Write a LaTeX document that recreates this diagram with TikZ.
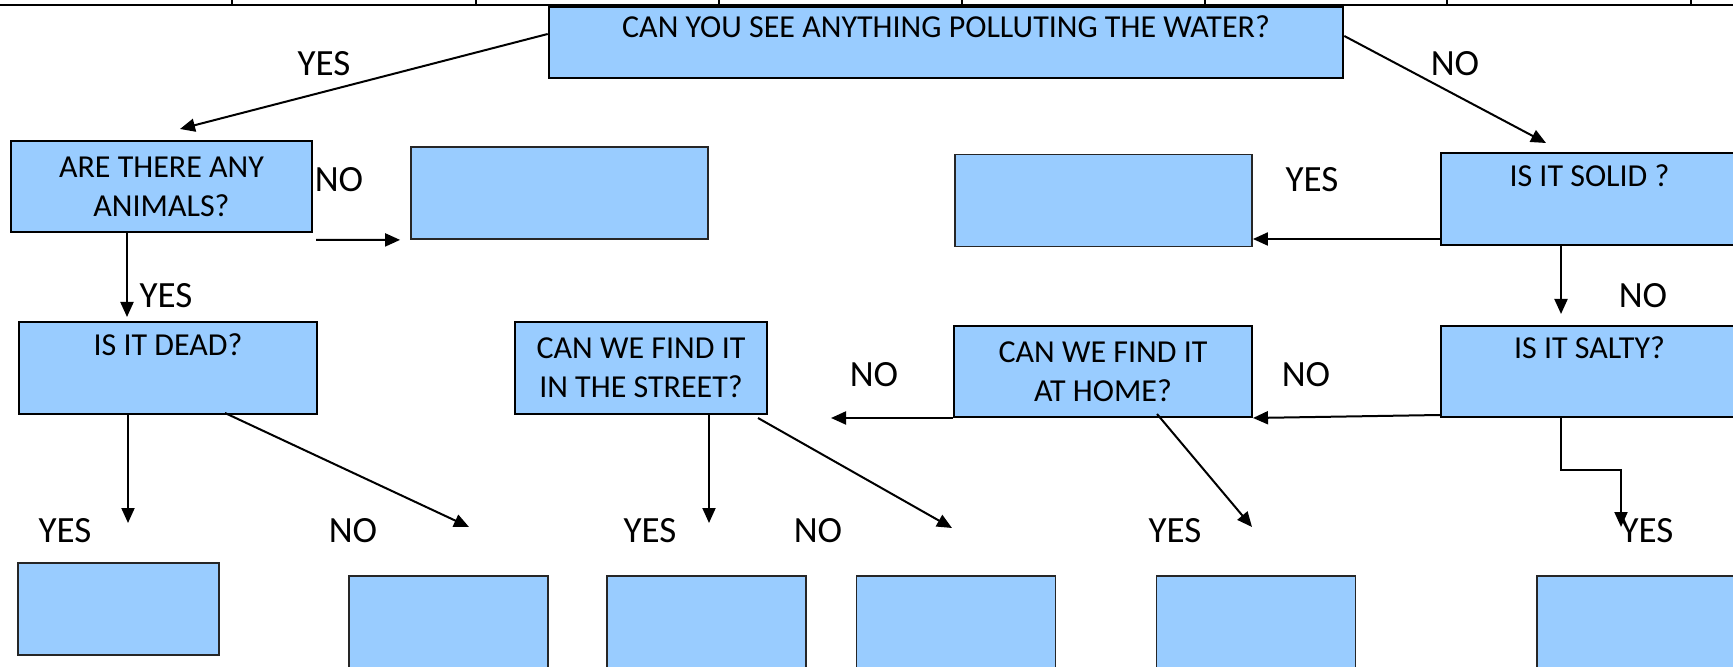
\documentclass[tikz,border=0pt]{standalone}
\usepackage{fontspec}
\setmainfont{Carlito}
\usetikzlibrary{arrows.meta,calc}
\definecolor{boxblue}{HTML}{99CCFF}
\tikzset{
qbox/.style={draw=black,line width=1pt,fill=boxblue,inner sep=0pt,align=center,font=\fontsize{16}{19.5}\selectfont},
ansbox/.style={draw=black!85,line width=0.9pt,fill=boxblue,inner sep=0pt},
answer/.style={inner sep=0pt,font=\fontsize{18.5}{22}\selectfont},
flowarrow/.style={-{Triangle[length=7.5pt,width=6.5pt]},line width=1pt},
ruleline/.style={line width=0.7pt}
}

\begin{document}
\begin{tikzpicture}[x=0.5pt,y=-0.5pt]
\useasboundingbox (0,0) rectangle (1733,667);
\clip (0,0) rectangle (1733,667);
% ruler along the top
\draw[ruleline] (0,5) -- (1733,5);
\foreach \x in {232,476,719,962,1205,1447,1691}
  \draw[ruleline] (\x,0) -- (\x,5);

% question boxes
\node[qbox,line width=1.3pt,minimum width=397pt,minimum height=35.5pt] (water) at (946,42.5) {CAN YOU SEE ANYTHING POLLUTING THE WATER?\\[-4pt]~};
\node[qbox,minimum width=150.5pt,minimum height=45.5pt] (animals) at (161.5,187) {ARE THERE ANY\\ANIMALS?};
\node[qbox,minimum width=148.5pt,minimum height=46pt] (solid) at (1589.5,199) {IS IT SOLID ?\\[4pt]~};
\node[qbox,minimum width=149pt,minimum height=46pt] (dead) at (168,368) {IS IT DEAD?\\[4pt]~};
\node[qbox,minimum width=126pt,minimum height=46pt] (street) at (641,368) {CAN WE FIND IT\\IN THE STREET?};
\node[qbox,minimum width=149pt,minimum height=45.5pt] (home) at (1103,371.5) {CAN WE FIND IT\\AT HOME?};
\node[qbox,minimum width=148.5pt,minimum height=45.5pt] (salty) at (1589.5,371.5) {IS IT SALTY?\\[4pt]~};

% empty answer boxes
\node[ansbox,minimum width=148.5pt,minimum height=46pt] (blankA) at (559.5,193) {};
\node[ansbox,minimum width=148.5pt,minimum height=46pt] (blankB) at (1103.5,200.5) {};
\node[ansbox,minimum width=100.5pt,minimum height=46pt] (endA) at (118.5,609) {};
\foreach \cx/\nm in {448.5/endB,706.5/endC,956/endD,1256/endE,1636.5/endF}
  \node[ansbox,minimum width=99.5pt,minimum height=46pt] (\nm) at (\cx,622) {};

% yes / no
\node[answer] (yesWater) at (324,64) {YES};
\node[answer] (noWater) at (1455,64) {NO};
\node[answer] (noAnimals) at (339,180) {NO};
\node[answer] (yesAnimals) at (166,296) {YES};
\node[answer] (yesSolid) at (1312,180) {YES};
\node[answer] (noSolid) at (1643,296) {NO};
\node[answer] (noHome) at (874,375) {NO};
\node[answer] (noSalty) at (1306,375) {NO};
\node[answer] (yesDead) at (65,531) {YES};
\node[answer] (noDead) at (353,531) {NO};
\node[answer] (yesStreet) at (650,531) {YES};
\node[answer] (noStreet) at (818,531) {NO};
\node[answer] (yesHome) at (1175,531) {YES};
\node[answer] (yesSalty) at (1647,531) {YES};

% free ends of the arrows
\coordinate (tipWaterYes) at (180,129);
\coordinate (tipWaterNo) at (1546,143);
\coordinate (tailAnimalsNo) at (316,240);
\coordinate (tipAnimalsYes) at (127,317);
\coordinate (tailSolidYes) at ([yshift=3.5pt]solid.south west);
\coordinate (tipSolidNo) at (1561,314);
\coordinate (tipHomeNo) at (831,418);
\coordinate (tipSaltyYes) at (1621,527);
\coordinate (tipHomeYes) at (1252,527);
\coordinate (tailStreetNo) at (758,418);
\coordinate (tipStreetNo) at (952,528);
\coordinate (tipStreetYes) at (709,523);
\coordinate (tipDeadYes) at (128,523);
\coordinate (tipDeadNo) at (469,527);

% arrows
\draw[flowarrow] ([yshift=4.25pt]water.west) -- (tipWaterYes);
\draw[flowarrow] ([yshift=3.25pt]water.east) -- (tipWaterNo);
\draw[flowarrow] (tailAnimalsNo) -- ([xshift=-5pt]blankA.south west);
\draw[flowarrow] (animals.south -| tipAnimalsYes) -- (tipAnimalsYes);
\draw[flowarrow] (tailSolidYes) -- (tailSolidYes -| blankB.east);
\draw[flowarrow] (solid.south -| tipSolidNo) -- (tipSolidNo);
\draw[flowarrow] ([yshift=1.5pt]salty.south west) -- (home.south east);
\draw[flowarrow] (home.south west) -- (tipHomeNo);
\draw[flowarrow] (salty.south -| tipSolidNo) -- ++(0,52) -| (tipSaltyYes);
\draw[flowarrow] ([xshift=27pt,yshift=2pt]home.south) -- (tipHomeYes);
\draw[flowarrow] (street.south -| tipStreetYes) -- (tipStreetYes);
\draw[flowarrow] (tailStreetNo) -- (tipStreetNo);
\draw[flowarrow] (dead.south -| tipDeadYes) -- (tipDeadYes);
\draw[flowarrow] ([xshift=28.5pt,yshift=1pt]dead.south) -- (tipDeadNo);
\end{tikzpicture}
\end{document}
